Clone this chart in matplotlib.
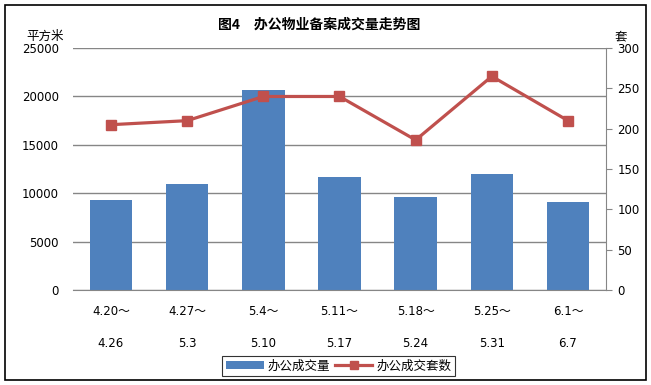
import numpy as np
import matplotlib.pyplot as plt
from matplotlib.patches import Rectangle, Patch
from matplotlib.lines import Line2D

plt.rcParams['font.family'] = ['Noto Sans CJK SC', 'DejaVu Sans']

# 数据
weeks_start = ['4.20～', '4.27～', '5.4～', '5.11～', '5.18～', '5.25～', '6.1～']
weeks_end = ['4.26', '5.3', '5.10', '5.17', '5.24', '5.31', '6.7']
area = [9300, 11000, 20700, 11700, 9600, 12000, 9100]   # 办公成交量 (平方米)
units = [205, 210, 240, 240, 186, 265, 210]              # 办公成交套数 (套)

bar_color = '#4F81BD'
line_color = '#C0504D'
grid_color = '#868686'
num_font = ['DejaVu Sans', 'Noto Sans CJK SC']

fig = plt.figure(figsize=(6.51, 3.85), dpi=100)
ax = fig.add_axes([0.112, 0.247, 0.819, 0.628])
x = np.arange(len(area))

ax.bar(x, area, width=0.56, color=bar_color, zorder=2)
ax.set_xlim(-0.5, len(area) - 0.5)
ax.set_ylim(0, 25000)
ax.set_yticks(np.arange(0, 25001, 5000))
ax.yaxis.grid(True, color=grid_color, linewidth=1)
ax.set_axisbelow(True)
for s in ['top', 'right', 'left']:
    ax.spines[s].set_visible(False)
ax.spines['bottom'].set_color(grid_color)
ax.tick_params(axis='y', length=0, labelsize=8.5, pad=10)
ax.tick_params(axis='x', length=0, labelbottom=False)
for lab in ax.get_yticklabels():
    lab.set_family(num_font)

# 两行的横轴标签
for i in x:
    ax.text(i, -0.09, weeks_start[i], transform=ax.get_xaxis_transform(),
            ha='center', va='center', fontsize=8.5, family=num_font)
    ax.text(i, -0.22, weeks_end[i], transform=ax.get_xaxis_transform(),
            ha='center', va='center', fontsize=8.5, family=num_font)

ax2 = ax.twinx()
ax2.plot(x, units, color=line_color, linewidth=2.3, marker='s', markersize=7.5, zorder=3)
ax2.set_ylim(0, 300)
ax2.set_yticks(np.arange(0, 301, 50))
for s in ['top', 'left', 'bottom']:
    ax2.spines[s].set_visible(False)
ax2.spines['right'].set_color(grid_color)
ax2.tick_params(axis='y', length=4, color=grid_color, labelsize=8.5, pad=4)
for lab in ax2.get_yticklabels():
    lab.set_family(num_font)

fig.text(0.49, 0.935, '图4　办公物业备案成交量走势图', ha='center', va='center',
         fontsize=10, fontweight='bold')
fig.text(0.07, 0.905, '平方米', ha='center', va='center', fontsize=9)
fig.text(0.953, 0.905, '套', ha='center', va='center', fontsize=9)

handles = [Patch(facecolor=bar_color, edgecolor='none'),
           Line2D([], [], color=line_color, linewidth=2.3, marker='s', markersize=6)]
leg = fig.legend(handles, ['办公成交量', '办公成交套数'], loc='center', ncol=2,
                 bbox_to_anchor=(0.52, 0.05), fontsize=9, frameon=True, fancybox=False,
                 handlelength=3, handletextpad=0.3, columnspacing=0.4,
                 borderpad=0.3, borderaxespad=0)
leg.get_frame().set_edgecolor('black')
leg.get_frame().set_linewidth(0.8)

fig.patches.append(Rectangle((0.008, 0.012), 0.984, 0.975, transform=fig.transFigure,
                             fill=False, edgecolor='black', linewidth=1.2))

fig.savefig('out.png', dpi=100)
